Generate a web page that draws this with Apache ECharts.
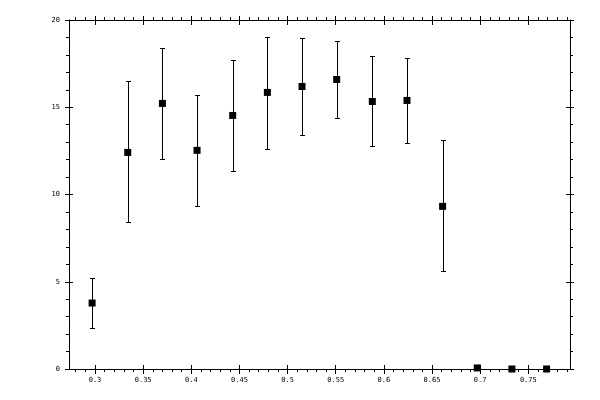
<!DOCTYPE html>
<html><head><meta charset="utf-8">
<script src="https://cdn.jsdelivr.net/npm/echarts@6/dist/echarts.min.js"></script>
<style>html,body{margin:0;padding:0;background:#fff}#c{width:600px;height:400px}</style>
</head><body><div id="c"></div>
<script>
const xValues = [0.297, 0.334, 0.370, 0.406, 0.443, 0.479, 0.515, 0.551, 0.588, 0.624, 0.661, 0.697, 0.733, 0.769];
const yValues = [3.78, 12.41, 15.22, 12.53, 14.53, 15.85, 16.19, 16.59, 15.33, 15.39, 9.32, 0.06, 0, 0];
const yUpper  = [5.21, 16.48, 18.42, 15.73, 17.68, 19.05, 18.99, 18.82, 17.91, 17.85, 13.10, null, null, null];
const yLower  = [2.35, 8.41, 12.01, 9.32, 11.33, 12.59, 13.39, 14.36, 12.76, 12.93, 5.61, null, null, null];

const xMajor = [0.3, 0.35, 0.4, 0.45, 0.5, 0.55, 0.6, 0.65, 0.7, 0.75];
const xTickLabels = ['0.3', '0.35', '0.4', '0.45', '0.5', '0.55', '0.6', '0.65', '0.7', '0.75'];
const yTickLabels = ['0', '5', '10', '15', '20'];

const X_MIN = 0.273, X_MAX = 0.7933, Y_MIN = 0, Y_MAX = 20;
const xMinor = [];
for (let i = 28; i <= 79; i++) { if (i % 5 !== 0) xMinor.push(i / 100); }

const black = '#000';
const font = { fontFamily: 'DejaVu Sans Mono', fontSize: 7, color: black };

function xAx(pos, line, ticks, len, inside, labels) {
  return {
    type: 'value', position: pos, min: X_MIN, max: X_MAX,
    axisLine: { show: line, onZero: false, lineStyle: { color: black, width: 1 } },
    axisTick: { show: true, customValues: ticks, length: len, inside: inside, lineStyle: { color: black, width: 1 } },
    axisLabel: labels ? Object.assign({ show: true, customValues: xMajor, margin: 8,
      formatter: v => { const k = xMajor.findIndex(m => Math.abs(m - v) < 1e-6); return k >= 0 ? xTickLabels[k] : ''; } }, font)
      : { show: false },
    splitLine: { show: false }
  };
}
function yAx(pos, line, inside, minor, labels) {
  return {
    type: 'value', position: pos, min: Y_MIN, max: Y_MAX, interval: 5,
    axisLine: { show: line, onZero: false, lineStyle: { color: black, width: 1 } },
    axisTick: { show: true, length: 4, inside: inside, lineStyle: { color: black, width: 1 } },
    minorTick: { show: minor, splitNumber: 5, length: 3, lineStyle: { color: black, width: 1 } },
    axisLabel: labels ? Object.assign({ show: true, margin: 9,
      formatter: v => yTickLabels[Math.round(v / 5)] }, font) : { show: false },
    splitLine: { show: false }, minorSplitLine: { show: false }
  };
}

const chart = echarts.init(document.getElementById('c'), null, { renderer: 'canvas' });
const errData = xValues.map((x, i) => [x, yLower[i], yUpper[i]]).filter(d => d[1] != null);

chart.setOption({
  animation: false,
  backgroundColor: '#fff',
  grid: { left: 69, right: 30, top: 20, bottom: 31, containLabel: false },
  xAxis: [
    xAx('bottom', true, xMajor, 5, false, true),
    xAx('bottom', false, xMajor, 4, true, false),
    xAx('bottom', false, xMinor, 3, false, false),
    xAx('top', true, xMajor, 4, false, false),
    xAx('top', false, xMajor, 5, true, false),
    xAx('top', false, xMinor, 3, false, false)
  ],
  yAxis: [
    yAx('left', true, false, true, true),
    yAx('left', false, true, false, false),
    yAx('right', true, false, true, false),
    yAx('right', false, true, false, false)
  ],
  series: [
    {
      type: 'custom', xAxisIndex: 0, yAxisIndex: 0, data: errData, clip: false,
      renderItem: (params, api) => {
        const x = api.value(0);
        const top = api.coord([x, api.value(2)]);
        const bot = api.coord([x, api.value(1)]);
        const cx = Math.round(top[0]) + 0.5;
        const ty = Math.round(top[1]) + 0.5, by = Math.round(bot[1]) + 0.5;
        const st = { stroke: black, lineWidth: 1 };
        return { type: 'group', children: [
          { type: 'line', shape: { x1: cx, y1: ty, x2: cx, y2: by }, style: st },
          { type: 'line', shape: { x1: cx - 2.5, y1: ty, x2: cx + 2.5, y2: ty }, style: st },
          { type: 'line', shape: { x1: cx - 2.5, y1: by, x2: cx + 2.5, y2: by }, style: st }
        ] };
      }
    },
    {
      type: 'scatter', xAxisIndex: 0, yAxisIndex: 0, clip: false,
      symbol: 'rect', symbolSize: 7, itemStyle: { color: black, opacity: 1 },
      data: xValues.map((x, i) => [x, yValues[i]]), z: 3
    }
  ]
});
</script></body></html>
